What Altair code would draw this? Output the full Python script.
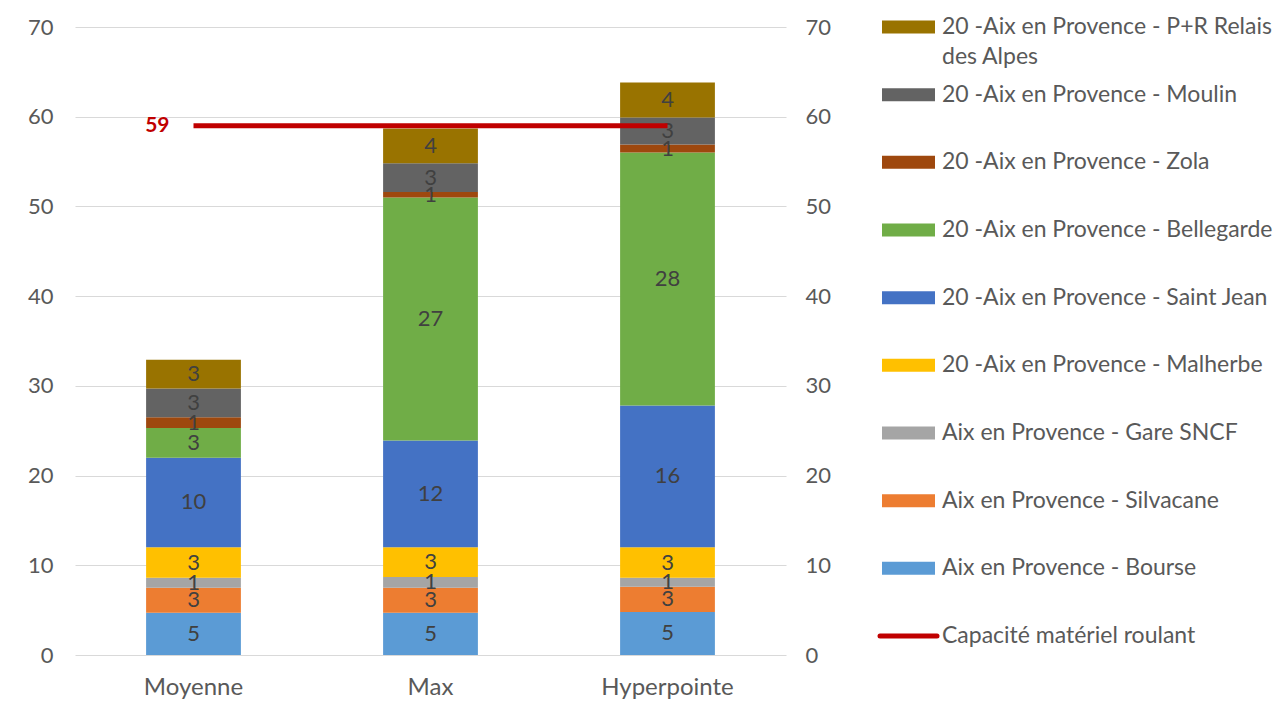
import altair as alt
import pandas as pd

categories = ["Moyenne", "Max", "Hyperpointe"]

series = [
    "Aix en Provence - Bourse",
    "Aix en Provence - Silvacane",
    "Aix en Provence - Gare SNCF",
    "20 -Aix en Provence - Malherbe",
    "20 -Aix en Provence - Saint Jean",
    "20 -Aix en Provence - Bellegarde",
    "20 -Aix en Provence - Zola",
    "20 -Aix en Provence - Moulin",
    "20 -Aix en Provence - P+R Relais des Alpes",
]
colors = ["#5B9BD5", "#ED7D31", "#A5A5A5", "#FFC000", "#4472C4",
          "#70AD47", "#9E480E", "#636363", "#997300"]

bourse = [4.7, 4.7, 4.8]
silvacane = [2.8, 2.8, 2.8]
gare_sncf = [1.1, 1.2, 1.0]
malherbe = [3.4, 3.3, 3.4]
saint_jean = [10.0, 11.9, 15.8]
bellegarde = [3.3, 27.1, 28.2]
zola = [1.2, 0.6, 0.9]
moulin = [3.2, 3.2, 3.0]
relais_alpes = [3.2, 3.9, 3.9]

capacity_name = "Capacité matériel roulant"
capacity = [59, 59, 59]
capacity_color = "#C00000"

values = [bourse, silvacane, gare_sncf, malherbe, saint_jean,
          bellegarde, zola, moulin, relais_alpes]

FONT = "Lato"
TEXT_GREY = "#595959"

all_names = series + [capacity_name]
all_colors = colors + [capacity_color]
color_scale = alt.Scale(domain=all_names, range=all_colors)

rows = []
for k, (name, vals) in enumerate(zip(series, values)):
    for cat, v in zip(categories, vals):
        rows.append({"cat": cat, "series": name, "value": v, "order": k})
df = pd.DataFrame(rows)
cap_df = pd.DataFrame({"cat": categories, "capacity": capacity})

x_scale = alt.Scale(paddingInner=0.6, paddingOuter=0.3)
y_scale = alt.Scale(domain=[0, 70], nice=False)
x_enc = alt.X("cat:N", sort=categories, scale=x_scale,
              axis=alt.Axis(title=None, labelAngle=0, domain=False, ticks=False,
                            labelPadding=20, labelFontSize=24, labelColor=TEXT_GREY,
                            labelFont=FONT))

bars = alt.Chart(df).mark_bar().encode(
    x=x_enc,
    y=alt.Y("value:Q", stack="zero", scale=y_scale,
            axis=alt.Axis(title=None, values=list(range(0, 71, 10)), grid=True,
                          gridColor="#d9d9d9", domain=False, ticks=False,
                          labelPadding=22, minExtent=62, maxExtent=62,
                          labelFontSize=22, labelColor=TEXT_GREY, labelFont=FONT)),
    color=alt.Color("series:N", scale=color_scale, legend=None),
    order=alt.Order("order:Q", sort="ascending"),
)

labels = alt.Chart(df).transform_stack(
    stack="value", groupby=["cat"], as_=["y0", "y1"],
    sort=[alt.SortField("order", "ascending")],
).transform_calculate(
    mid="(datum.y0 + datum.y1) / 2"
).mark_text(fontSize=22, color="#404040", font=FONT, baseline="middle").encode(
    x=alt.X("cat:N", sort=categories, scale=x_scale),
    y=alt.Y("mid:Q", scale=y_scale, axis=None),
    text=alt.Text("value:Q", format=".0f"),
)

line = alt.Chart(cap_df).mark_line(color=capacity_color, strokeWidth=5).encode(
    x=alt.X("cat:N", sort=categories, scale=x_scale),
    y=alt.Y("capacity:Q", scale=y_scale, axis=None),
)

cap_label = alt.Chart(cap_df).transform_filter(
    alt.datum.cat == categories[0]
).mark_text(align="right", baseline="middle", dx=-24, fontWeight="bold",
            color=capacity_color, fontSize=21, font=FONT).encode(
    x=alt.X("cat:N", sort=categories, scale=x_scale),
    y=alt.Y("capacity:Q", scale=y_scale, axis=None),
    text=alt.Text("capacity:Q"),
)

right_axis = alt.Chart(cap_df).mark_line(opacity=0).encode(
    x=alt.X("cat:N", sort=categories, scale=x_scale),
    y=alt.Y("capacity:Q", scale=y_scale,
            axis=alt.Axis(orient="right", title=None, values=list(range(0, 71, 10)),
                          grid=False, domain=False, ticks=False, labelPadding=19,
                          minExtent=40, maxExtent=40, labelFontSize=22,
                          labelColor=TEXT_GREY, labelFont=FONT)),
)

main = alt.layer(bars, labels, line, cap_label, right_axis).resolve_scale(
    y="independent"
).properties(width=711, height=628)

# legend
legend_names = list(reversed(series)) + [capacity_name]
legend_lines = [["20 -Aix en Provence - P+R Relais", "des Alpes"]] + \
    [[n] for n in reversed(series[:-1])] + [[capacity_name]]
legend_kind = ["bar"] * len(series) + ["line"]
leg_df = pd.DataFrame({"name": legend_names, "lines": legend_lines, "kind": legend_kind})

leg_y = alt.Y("name:N", sort=legend_names, axis=None,
              scale=alt.Scale(type="point", padding=0))
leg_color = alt.Color("name:N", scale=color_scale, legend=None)

leg_bar = alt.Chart(leg_df).transform_filter(alt.datum.kind == "bar").mark_rule(
    strokeWidth=13).encode(x=alt.value(0), x2=alt.value(53), y=leg_y, color=leg_color)
leg_line = alt.Chart(leg_df).transform_filter(alt.datum.kind == "line").mark_rule(
    strokeWidth=5, strokeCap="round").encode(x=alt.value(-2), x2=alt.value(55), y=leg_y,
                                             color=leg_color)
leg_text = alt.Chart(leg_df).mark_text(
    align="left", baseline="middle", fontSize=23, font=FONT, color=TEXT_GREY, lineHeight=30
).encode(x=alt.value(60), y=leg_y, text="lines")

legend = alt.layer(leg_bar, leg_line, leg_text).properties(width=380, height=609)

chart = alt.hconcat(main, legend, spacing=44).properties(
    padding={"left": 5, "top": 8, "right": 0, "bottom": 5}
).configure(font=FONT, view=alt.ViewConfig(stroke=None))

chart.save("out.html", embed_options={"renderer": "svg", "actions": False})
